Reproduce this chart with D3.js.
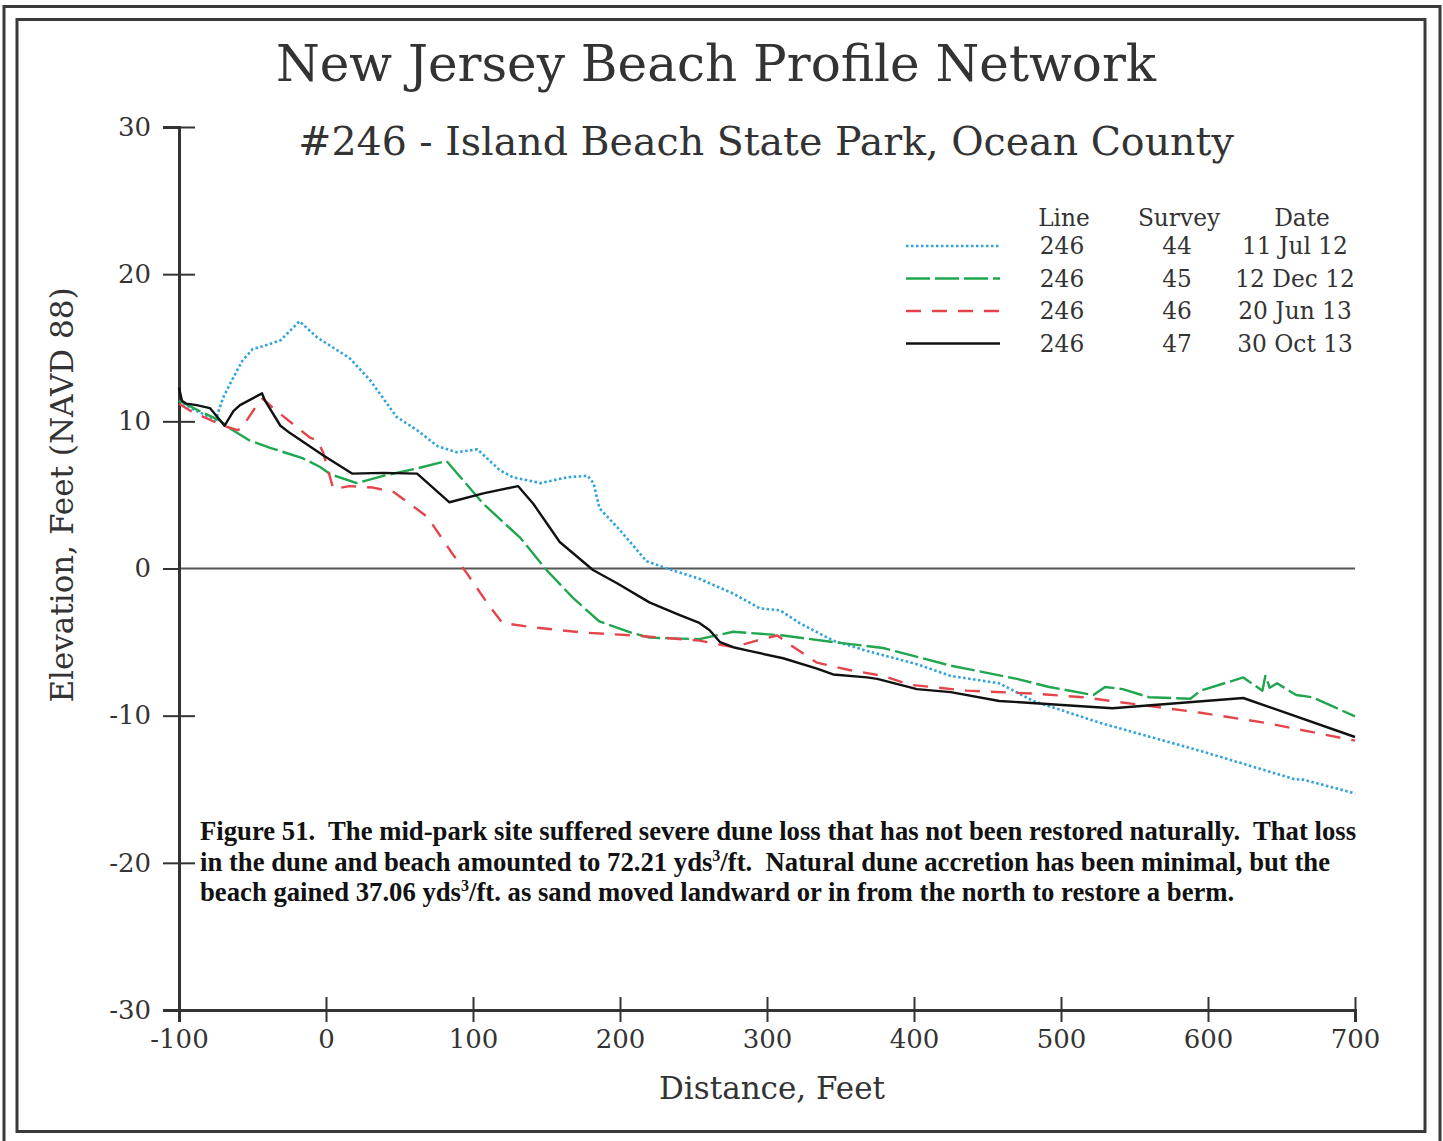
<!DOCTYPE html>
<html><head><meta charset="utf-8">
<script src="https://cdn.jsdelivr.net/npm/d3@7"></script>
<style>body{margin:0;background:#fff}svg{display:block}text{white-space:pre}</style>
</head><body>
<script>
const xTicks = [-100, 0, 100, 200, 300, 400, 500, 600, 700];
const yTicks = [-30, -20, -10, 0, 10, 20, 30];
const legendHeaders = ["Line", "Survey", "Date"];
const seriesLine = ["246", "246", "246", "246"];
const seriesSurvey = ["44", "45", "46", "47"];
const seriesDate = ["11 Jul 12", "12 Dec 12", "20 Jun 13", "30 Oct 13"];
const s44 = [[-100,11.4],[-90,10.8],[-75,10.1],[-70,11.6],[-64,12.8],[-57,14.1],[-50,14.9],[-40,15.2],[-31,15.5],[-26,16.0],[-18,16.8],[-6,15.7],[5,15.0],[16,14.3],[30,12.8],[48,10.3],[62,9.4],[76,8.3],[89,7.9],[103,8.1],[118,6.7],[127,6.2],[146,5.8],[164,6.2],[178,6.3],[182,5.8],[186,4.1],[200,2.6],[218,0.5],[232,0.0],[254,-0.7],[277,-1.7],[295,-2.7],[309,-2.85],[322,-3.7],[345,-4.9],[368,-5.6],[402,-6.5],[425,-7.3],[458,-7.8],[481,-9.0],[527,-10.5],[595,-12.4],[660,-14.35],[663,-14.3],[697,-15.2],[700,-15.3]];
const s45 = [[-100,11.4],[-86,10.7],[-72,10.05],[-65,9.5],[-52,8.7],[-38,8.2],[-16,7.5],[-4,6.9],[3,6.4],[21,5.8],[39,6.3],[62,6.8],[82,7.3],[85.5,6.9],[107,4.4],[132,2.1],[150,-0.1],[168,-2.0],[186,-3.6],[209,-4.4],[220,-4.7],[254,-4.8],[277,-4.3],[311,-4.55],[345,-5.0],[379,-5.4],[425,-6.6],[470,-7.5],[492,-8.05],[522,-8.6],[530,-8.05],[542,-8.2],[560,-8.75],[588,-8.85],[595,-8.3],[624,-7.4],[637,-8.3],[639,-7.3],[642,-8.1],[647,-7.8],[660,-8.6],[671,-8.75],[700,-10.05]];
const s46 = [[-100,11.2],[-92,10.7],[-70,9.7],[-60,9.4],[-57,9.6],[-45,11.4],[-43,11.55],[-36,10.9],[-11,8.9],[-6,8.7],[-2,7.9],[5,5.4],[16,5.6],[32,5.5],[46,5.2],[57,4.4],[69,3.5],[86,1.0],[96,-0.35],[110,-2.4],[120,-3.7],[141,-4.0],[175,-4.35],[209,-4.55],[254,-4.9],[277,-5.35],[293,-4.9],[307,-4.55],[316,-5.2],[334,-6.4],[356,-6.9],[379,-7.3],[397,-7.9],[436,-8.3],[481,-8.5],[515,-8.75],[549,-9.2],[595,-9.8],[640,-10.5],[700,-11.7]];
const s47 = [[-100,12.3],[-98,11.4],[-95,11.2],[-88,11.1],[-79,10.9],[-69,9.7],[-63,10.7],[-58.5,11.1],[-43.5,11.9],[-41.5,11.4],[-31,9.7],[-24.5,9.2],[-2,7.7],[17.7,6.45],[39,6.5],[62,6.45],[84,4.5],[107,5.1],[130.6,5.6],[141,4.4],[159,1.8],[181.6,-0.1],[198,-1.0],[220,-2.3],[239,-3.1],[254,-3.7],[261,-4.2],[268,-5.0],[277,-5.35],[288,-5.6],[311,-6.1],[334,-6.8],[345,-7.2],[368,-7.4],[375,-7.5],[402,-8.2],[425,-8.4],[458,-9.0],[535,-9.5],[624,-8.8],[700,-11.45]];
const seriesData = [s44, s45, s46, s47];
const seriesColors = ["#2ea3dc", "#1fa64e", "#e5444b", "#111111"];
const seriesDash = ["2.5,2.5", "24,5", "15,11", null];
const captionLines = [
  ["Figure 51.  The mid-park site suffered severe dune loss that has not been restored naturally.  That loss"],
  ["in the dune and beach amounted to 72.21 yds", "3", "/ft.  Natural dune accretion has been minimal, but the"],
  ["beach gained 37.06 yds", "3", "/ft. as sand moved landward or in from the north to restore a berm."]
];

const W = 1443, H = 1141;
const svg = d3.select("body").append("svg").attr("width", W).attr("height", H);
svg.append("rect").attr("width", W).attr("height", H).attr("fill", "#fff");
// frames
svg.append("rect").attr("x", 4).attr("y", 6.5).attr("width", 1436).attr("height", 1150)
  .attr("fill", "none").attr("stroke", "#3a3a3a").attr("stroke-width", 3);
svg.append("rect").attr("x", 17).attr("y", 19.5).attr("width", 1408).attr("height", 1112)
  .attr("fill", "none").attr("stroke", "#3a3a3a").attr("stroke-width", 3);

const x = d3.scaleLinear().domain([-100, 700]).range([179, 1355]);
const y = d3.scaleLinear().domain([-30, 30]).range([1010, 127]);
const serif = "'DejaVu Serif', serif";
const fmt = d => String(d);

// titles
svg.append("text").attr("x", 716).attr("y", 81).attr("text-anchor", "middle")
  .attr("font-family", serif).attr("font-size", 50).attr("fill", "#333")
  .text("New Jersey Beach Profile Network");
svg.append("text").attr("x", 766).attr("y", 155).attr("text-anchor", "middle")
  .attr("font-family", serif).attr("font-size", 39.5).attr("fill", "#333")
  .text("#246 - Island Beach State Park, Ocean County");

// zero line
svg.append("line").attr("x1", x(-100)).attr("x2", x(700)).attr("y1", y(0)).attr("y2", y(0))
  .attr("stroke", "#555").attr("stroke-width", 2);

// axes
const gy = svg.append("g").attr("transform", `translate(${x(-100)},0)`)
  .call(d3.axisLeft(y).tickValues(yTicks).tickSize(16).tickPadding(12).tickFormat(fmt));
gy.select(".domain").attr("stroke", "#333").attr("stroke-width", 3);
gy.selectAll(".tick line").attr("x2", d => (d === 0 || d === -30) ? 0 : 16).attr("x1", -16).attr("stroke", "#333").attr("stroke-width", 2);
gy.selectAll(".tick text").attr("font-family", serif).attr("font-size", 26).attr("fill", "#333");

const gx = svg.append("g").attr("transform", `translate(0,${y(-30)})`)
  .call(d3.axisBottom(x).tickValues(xTicks).tickSize(12).tickPadding(8).tickFormat(fmt));
gx.select(".domain").attr("stroke", "#333").attr("stroke-width", 3);
gx.selectAll(".tick line").attr("y1", -13).attr("y2", 12).attr("stroke", "#333").attr("stroke-width", 2);
gx.selectAll(".tick text").attr("font-family", serif).attr("font-size", 26).attr("fill", "#333");

// axis titles
svg.append("text").attr("transform", "translate(73,495) rotate(-90)").attr("text-anchor", "middle")
  .attr("font-family", serif).attr("font-size", 31).attr("fill", "#333").text("Elevation, Feet (NAVD 88)");
svg.append("text").attr("x", 772).attr("y", 1099).attr("text-anchor", "middle")
  .attr("font-family", serif).attr("font-size", 31).attr("fill", "#333").text("Distance, Feet");

// series
const line = d3.line().x(d => x(d[0])).y(d => y(d[1]));
seriesData.forEach((data, i) => {
  svg.append("path").datum(data).attr("d", line).attr("fill", "none")
    .attr("stroke", seriesColors[i]).attr("stroke-width", i === 0 ? 2.6 : 2.4)
    .attr("stroke-linejoin", "round")
    .attr("stroke-dasharray", seriesDash[i]);
});

// legend
const lg = svg.append("g").attr("font-family", serif).attr("font-size", 23.3).attr("fill", "#333");
const colX = [1062, 1177, 1295];
legendHeaders.forEach((h, j) => {
  lg.append("text").attr("x", colX[j] + (j === 2 ? 7 : 2)).attr("y", 226).attr("text-anchor", "middle").text(h);
});
seriesLine.forEach((v, i) => {
  const yy = 254 + i * 32.5;
  lg.append("line").attr("x1", 906).attr("x2", 1000).attr("y1", yy - 8).attr("y2", yy - 8)
    .attr("stroke", seriesColors[i]).attr("stroke-width", i === 0 ? 2.6 : 2.4)
    .attr("stroke-dasharray", seriesDash[i]);
  lg.append("text").attr("x", colX[0]).attr("y", yy).attr("text-anchor", "middle").text(v);
  lg.append("text").attr("x", colX[1]).attr("y", yy).attr("text-anchor", "middle").text(seriesSurvey[i]);
  lg.append("text").attr("x", colX[2]).attr("y", yy).attr("text-anchor", "middle").text(seriesDate[i]);
});

// caption
const cap = svg.append("g").attr("font-family", "'Liberation Serif', 'Times New Roman', serif")
  .attr("font-weight", "bold").attr("font-size", 26.7).attr("fill", "#111");
captionLines.forEach((parts, i) => {
  const t = cap.append("text").attr("x", 200).attr("y", 840 + i * 30.5);
  parts.forEach((p, k) => {
    const ts = t.append("tspan").text(p);
    if (k === 1) ts.attr("dy", -10).attr("font-size", 16);
    if (k === 2) ts.attr("dy", 10);
  });
});
</script>
</body></html>
